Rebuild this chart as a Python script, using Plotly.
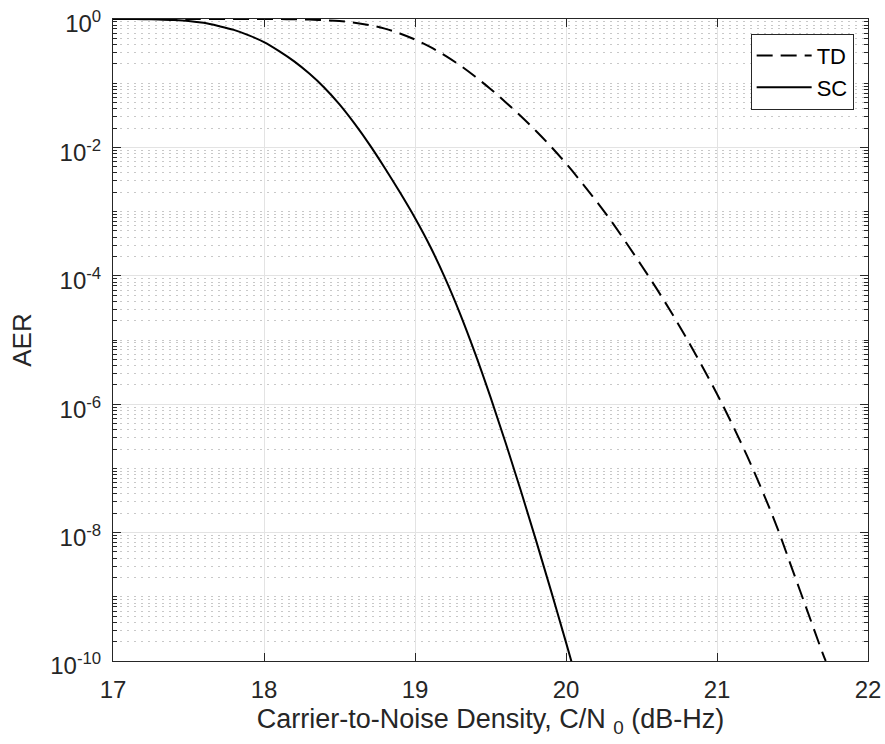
import plotly.graph_objects as go

# ---- data (log10 of AER) ----
sc_cn0 = [17.0, 17.1, 17.2, 17.3, 17.4, 17.5, 17.6, 17.7, 17.8, 17.9,
          18.0, 18.1, 18.2, 18.3, 18.4, 18.5, 18.6, 18.7, 18.8, 18.9,
          19.0, 19.1, 19.2, 19.3, 19.4, 19.5, 19.6, 19.7, 19.8, 19.9,
          20.0, 20.04]
sc_log10_aer = [0.0, -0.001, -0.003, -0.007, -0.015, -0.03, -0.06, -0.11, -0.17, -0.255,
                -0.36, -0.50, -0.66, -0.85, -1.07, -1.33, -1.63, -1.96, -2.32, -2.70,
                -3.10, -3.54, -4.04, -4.60, -5.22, -5.89, -6.60, -7.34, -8.11, -8.90,
                -9.71, -10.04]

td_cn0 = [17.0, 17.5, 18.0, 18.1, 18.2, 18.3, 18.4, 18.5, 18.6, 18.7,
          18.8, 18.9, 19.0, 19.1, 19.2, 19.3, 19.4, 19.5, 19.6, 19.7,
          19.8, 19.9, 20.0, 20.1, 20.2, 20.3, 20.4, 20.5, 20.6, 20.7,
          20.8, 20.9, 21.0, 21.1, 21.2, 21.3, 21.4, 21.5, 21.6, 21.7,
          21.72]
td_log10_aer = [0.0, 0.0, -0.0005, -0.0015, -0.004, -0.009, -0.018, -0.032, -0.058, -0.095,
                -0.150, -0.225, -0.32, -0.435, -0.57, -0.725, -0.90, -1.09, -1.295, -1.51,
                -1.74, -1.985, -2.25, -2.535, -2.835, -3.15, -3.49, -3.84, -4.20, -4.58,
                -4.98, -5.40, -5.84, -6.31, -6.81, -7.35, -7.93, -8.58, -9.23, -9.88,
                -10.0]

x_ticks = [17, 18, 19, 20, 21, 22]
y_tick_exponents = [0, -2, -4, -6, -8, -10]
y_tick_labels = ["10<sup>0</sup>", "10<sup>-2</sup>", "10<sup>-4</sup>",
                 "10<sup>-6</sup>", "10<sup>-8</sup>", "10<sup>-10</sup>"]

sc_aer = [10 ** v for v in sc_log10_aer]
td_aer = [10 ** v for v in td_log10_aer]

FONT = "Liberation Sans, Arial, Helvetica, sans-serif"
AX = "#262626"

fig = go.Figure()
fig.add_trace(go.Scatter(x=td_cn0, y=td_aer, mode="lines", name="TD",
                         line=dict(color="black", width=2, dash="16px,8px", shape="spline")))
fig.add_trace(go.Scatter(x=sc_cn0, y=sc_aer, mode="lines", name="SC",
                         line=dict(color="black", width=2, shape="spline")))

minor_vals = []
for n in range(-10, 0):
    for k in range(1, 10):
        if k == 1 and n % 2 == 0:
            continue
        minor_vals.append(k * 10.0 ** n)

fig.update_layout(
    width=885, height=744,
    margin=dict(l=113, r=17, t=19, b=83, autoexpand=False),
    paper_bgcolor="white", plot_bgcolor="white",
    font=dict(family=FONT, size=24, color=AX),
    showlegend=True,
    legend=dict(x=0.981, y=0.977, xanchor="right", yanchor="top",
                bgcolor="white", bordercolor=AX, borderwidth=1,
                font=dict(family=FONT, size=22, color="black"),
                tracegroupgap=0, itemwidth=55),
)

fig.update_xaxes(
    range=[17, 22], tickvals=x_ticks, ticktext=[str(v) for v in x_ticks],
    ticks="inside", ticklen=8, tickcolor=AX, showline=True, linecolor=AX, linewidth=1,
    mirror="allticks", showgrid=True, gridcolor="#e3e3e3", gridwidth=1, zeroline=False,
    automargin=False, ticklabelstandoff=7, ticklabeloverflow="allow",
    tickfont=dict(family=FONT, size=24, color=AX),
    title=dict(text="Carrier-to-Noise Density, C/N <sub>0</sub> (dB-Hz)",
               font=dict(family=FONT, size=27, color=AX), standoff=7),
)
fig.update_yaxes(
    type="log", range=[-10, 0],
    tickvals=[10.0 ** e for e in y_tick_exponents], ticktext=y_tick_labels,
    ticks="inside", ticklen=8, tickcolor=AX, showline=True, linecolor=AX, linewidth=1,
    mirror="allticks", showgrid=True, gridcolor="#e3e3e3", gridwidth=1, zeroline=False,
    automargin=False, ticklabelstandoff=6, ticklabeloverflow="allow", ticklabelshift=5,
    tickfont=dict(family=FONT, size=24, color=AX),
    minor=dict(tickmode="array", tickvals=minor_vals, ticks="inside", ticklen=4,
               tickcolor=AX, showgrid=True, gridcolor="#c8c8c8", griddash="2px,5px", gridwidth=1),
    title=dict(text="AER", font=dict(family=FONT, size=26, color=AX), standoff=11),
)

fig.write_html(
    "out.html",
    config={"displayModeBar": False},
    post_script="document.body.style.margin='0';document.body.style.overflow='hidden';",
)
